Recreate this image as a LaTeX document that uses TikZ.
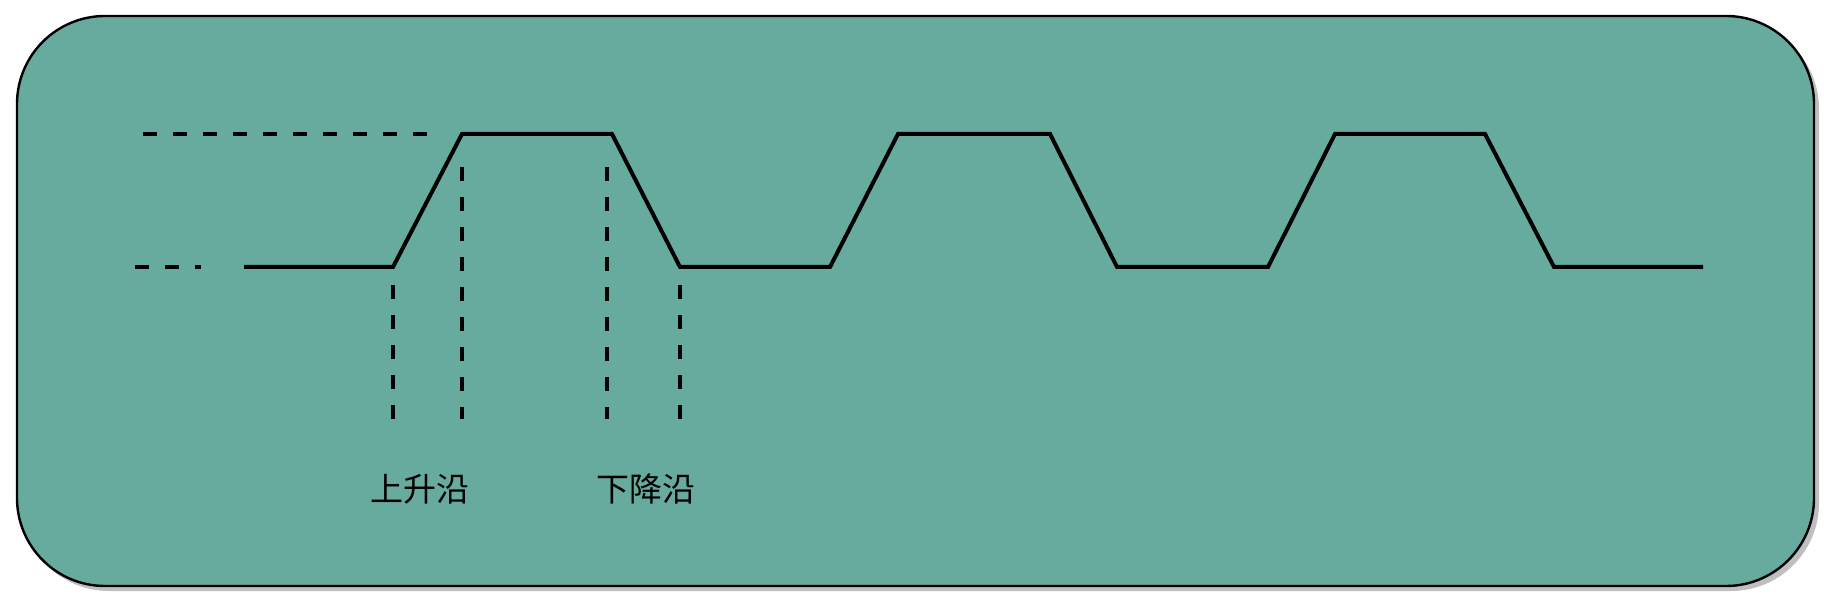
\documentclass[tikz,border=0pt]{standalone}
\usepackage{fontspec}
\newfontfamily\cjk{Noto Sans CJK SC}
\definecolor{boxfill}{HTML}{67AB9F}
\begin{document}
\begin{tikzpicture}[x=0.5pt,y=-0.5pt,
  wave/.style={line width=2pt, line join=miter},
  guide/.style={line width=2pt, dash pattern=on 7pt off 8pt},
  lbl/.style={font=\cjk\fontsize{16.5pt}{18pt}\selectfont, inner sep=0pt}]
\useasboundingbox (0,0) rectangle (1824,608);
% shadow and box
\fill[black!25, rounded corners=44pt] (21,21) rectangle (1819,591);
\draw[fill=boxfill, line width=1.2pt, rounded corners=44pt] (17,16) rectangle (1814,586);
% waveform
\coordinate (s) at (244,267);
\coordinate (r1) at (393,267);
\coordinate (t1) at (462,134);
\coordinate (e1) at (612,134);
\coordinate (f1) at (680,267);
\draw[wave] (s) -- (r1) -- (t1) -- (e1) -- (f1) -- (830,267) -- (898,134) -- (1050,134)
  -- (1117,267) -- (1268,267) -- (1335,134) -- (1485,134) -- (1554,267) -- (1703,267);
% guide lines
\draw[guide] (143,134) -- (429,134);
\draw[guide] (135,267) -- (201,267);
\draw[guide] (393,285) -- (393,419);
\draw[guide] (462,167) -- (462,419);
\draw[guide] (607,167) -- (607,419);
\draw[guide] (680,285) -- (680,419);
% labels
\node[lbl] (rise) at (420,489) {上升沿};
\node[lbl] (fall) at (646,489) {下降沿};
\end{tikzpicture}
\end{document}
